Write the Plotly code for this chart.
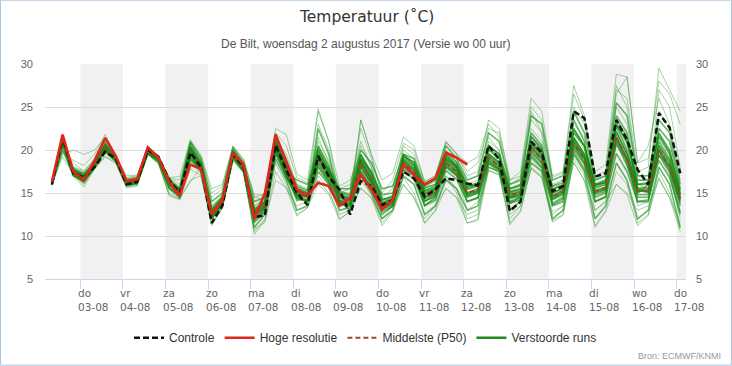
import plotly.graph_objects as go
import pandas as pd

# ---------------- data ----------------
START = "2017-08-02 08:00"   # first forecast step (local time), 6-hourly
N_STEPS = 60
HRES_STEPS = 40

day_names = ["do", "vr", "za", "zo", "ma", "di", "wo", "do", "vr", "za", "zo", "ma", "di", "wo", "do"]
day_dates = ["2017-08-03", "2017-08-04", "2017-08-05", "2017-08-06", "2017-08-07", "2017-08-08",
             "2017-08-09", "2017-08-10", "2017-08-11", "2017-08-12", "2017-08-13", "2017-08-14",
             "2017-08-15", "2017-08-16", "2017-08-17"]
day_labels = ["03-08", "04-08", "05-08", "06-08", "07-08", "08-08", "09-08", "10-08", "11-08",
              "12-08", "13-08", "14-08", "15-08", "16-08", "17-08"]
y_ticks = [5, 10, 15, 20, 25, 30]

controle = [16.0, 21.5, 17.3, 16.8, 18.0, 19.8, 19.0, 16.0, 16.3, 20.0,
            19.2, 16.5, 15.0, 19.7, 18.0, 11.5, 13.5, 19.5, 18.0, 12.2,
            12.4, 20.6, 17.7, 15.0, 13.6, 19.3, 16.9, 15.4, 12.5, 16.4,
            15.8, 13.6, 14.2, 17.5, 16.7, 14.6, 15.4, 16.7, 16.5, 16.1,
            15.9, 20.5, 18.9, 12.9, 14.0, 21.0, 19.7, 15.2, 15.8, 24.5,
            23.7, 16.9, 17.3, 23.5, 21.2, 17.7, 16.0, 24.3, 22.6, 17.3]

hoge_resolutie = [16.3, 21.8, 17.5, 16.5, 18.8, 21.4, 19.3, 16.4, 16.6, 20.3,
                  19.1, 16.3, 14.7, 18.3, 17.8, 12.5, 14.2, 19.7, 18.3, 12.0,
                  15.0, 21.8, 18.7, 15.4, 14.7, 16.2, 15.8, 13.5, 14.4, 17.1,
                  15.4, 13.1, 14.2, 18.3, 17.1, 16.0, 16.7, 19.7, 19.1, 18.3]

middelste_p50 = [16.2, 21.0, 17.5, 16.8, 18.3, 20.3, 19.0, 16.2, 16.4, 19.8,
                 19.0, 16.2, 15.0, 19.8, 18.0, 12.5, 14.0, 19.5, 17.8, 12.5,
                 13.5, 20.5, 17.5, 15.0, 14.5, 19.0, 17.0, 14.5, 14.0, 18.5,
                 16.5, 13.5, 14.0, 18.5, 17.5, 14.5, 15.0, 18.5, 17.5, 15.0,
                 15.4, 19.1, 18.1, 14.8, 15.0, 20.3, 18.9, 14.6, 15.2, 20.8,
                 18.9, 15.2, 15.6, 21.5, 18.9, 15.2, 15.2, 20.0, 18.1, 14.3]

run_01 = [16.3, 21.5, 17.8, 17.0, 18.6, 20.8, 19.1, 16.5, 16.6, 20.1, 19.1, 16.5, 15.5, 20.5, 18.5, 13.5, 14.5, 20.0, 18.2, 13.5,
          14.2, 21.5, 19.0, 16.0, 15.2, 21.5, 18.5, 15.0, 15.0, 20.5, 18.0, 14.5, 15.5, 20.0, 19.0, 15.5, 16.0, 20.0, 18.5, 16.0,
          16.5, 21.5, 20.0, 15.5, 16.0, 23.5, 22.0, 16.0, 16.5, 25.0, 23.0, 16.5, 17.0, 27.0, 26.0, 17.5, 18.0, 29.5, 27.0, 24.5]
run_02 = [15.9, 19.2, 17.2, 16.0, 17.8, 19.3, 18.5, 15.8, 16.0, 19.5, 18.5, 15.0, 14.4, 16.5, 17.0, 11.2, 13.2, 18.8, 17.4, 10.2,
          11.8, 16.5, 15.6, 12.3, 13.3, 16.0, 14.8, 11.9, 12.9, 15.6, 14.4, 11.2, 12.8, 16.0, 14.4, 11.5, 12.9, 15.6, 14.4, 11.5,
          11.8, 17.6, 17.1, 11.3, 12.8, 17.9, 16.8, 11.6, 12.4, 18.6, 16.4, 11.0, 12.8, 16.0, 14.8, 11.2, 12.4, 16.8, 14.4, 10.5]
run_03 = [16.1, 19.5, 20.0, 19.5, 20.0, 21.5, 19.2, 16.8, 17.0, 20.2, 19.2, 16.8, 16.9, 21.2, 19.4, 15.5, 16.0, 20.5, 18.9, 14.8,
          14.8, 22.5, 21.8, 17.2, 16.5, 24.8, 21.0, 15.8, 16.5, 19.5, 16.8, 13.8, 14.5, 18.0, 17.0, 13.5, 14.0, 17.0, 15.5, 12.0,
          12.5, 18.0, 17.5, 12.5, 13.5, 19.0, 17.5, 12.8, 13.5, 20.0, 18.5, 13.0, 14.0, 20.5, 19.0, 13.5, 14.0, 19.5, 17.0, 12.0]
run_04 = [16.2, 20.5, 18.5, 17.5, 19.0, 20.0, 18.8, 16.0, 16.2, 19.7, 18.8, 15.8, 15.2, 20.0, 18.2, 12.0, 13.8, 19.2, 17.6, 11.5,
          12.8, 19.5, 17.0, 14.5, 14.0, 20.5, 18.0, 13.8, 13.5, 23.5, 19.5, 16.5, 17.3, 21.5, 20.5, 16.3, 17.0, 21.0, 19.5, 17.0,
          17.5, 23.5, 22.5, 16.5, 17.5, 26.0, 24.5, 17.0, 17.5, 27.5, 24.0, 17.5, 18.3, 28.8, 28.5, 18.5, 20.5, 26.0, 23.0, 16.5]
run_05 = [16.0, 21.2, 17.0, 16.2, 18.0, 20.5, 19.0, 16.3, 16.5, 19.9, 19.0, 16.0, 14.8, 19.0, 17.8, 12.8, 14.2, 19.6, 17.9, 12.8,
          13.8, 20.8, 17.8, 15.2, 14.8, 19.5, 17.2, 14.8, 14.3, 18.8, 16.8, 13.2, 13.8, 18.8, 17.8, 14.8, 15.3, 18.8, 17.8, 14.5,
          15.0, 18.8, 17.8, 14.5, 14.8, 20.0, 18.5, 14.3, 15.0, 21.0, 19.2, 15.0, 15.5, 22.0, 19.5, 15.5, 15.0, 20.5, 18.5, 14.0]
run_06 = [16.4, 21.6, 17.6, 16.6, 18.5, 20.9, 19.2, 16.6, 16.8, 20.3, 19.3, 16.6, 15.6, 21.0, 19.0, 14.0, 15.0, 20.3, 18.5, 13.0,
          14.0, 21.8, 18.5, 14.5, 14.0, 22.5, 19.5, 14.0, 13.0, 17.5, 15.5, 12.5, 13.5, 19.5, 18.5, 15.0, 15.5, 19.5, 18.0, 15.5,
          16.0, 20.5, 19.5, 14.0, 14.5, 22.0, 20.5, 13.5, 14.0, 23.5, 21.0, 14.0, 14.5, 24.0, 22.0, 15.0, 16.0, 22.5, 21.0, 15.5]
run_07 = [16.1, 20.8, 17.4, 16.9, 18.1, 20.2, 18.9, 16.1, 16.3, 19.6, 18.9, 16.3, 15.1, 19.6, 17.9, 12.3, 13.9, 19.4, 17.7, 12.0,
          13.0, 19.8, 16.8, 14.8, 14.5, 18.5, 16.5, 14.2, 14.0, 18.0, 16.0, 13.8, 14.3, 17.8, 17.0, 14.0, 14.8, 18.0, 17.0, 14.8,
          15.2, 19.5, 18.5, 15.0, 15.2, 20.8, 19.5, 15.0, 15.5, 21.5, 19.5, 16.0, 16.2, 23.0, 21.0, 16.5, 16.5, 21.5, 19.5, 15.0]
run_08 = [16.0, 20.0, 17.1, 16.4, 18.2, 19.8, 18.7, 15.9, 16.1, 19.6, 18.6, 15.5, 14.5, 18.8, 17.5, 12.0, 13.5, 19.0, 17.5, 11.0,
          12.5, 19.0, 16.5, 13.0, 13.5, 17.5, 16.0, 13.0, 13.3, 17.0, 15.0, 12.0, 13.0, 17.0, 16.0, 12.5, 13.5, 16.5, 15.5, 13.0,
          13.5, 18.0, 17.5, 13.0, 14.0, 18.5, 17.5, 12.0, 13.0, 19.5, 17.5, 12.0, 13.5, 18.5, 16.5, 12.0, 13.0, 18.0, 16.0, 11.0]
run_09 = [16.3, 21.3, 17.7, 17.2, 18.4, 20.6, 19.1, 16.4, 16.5, 20.0, 19.1, 16.1, 14.9, 20.2, 18.3, 12.6, 14.1, 19.8, 18.0, 12.6,
          13.6, 21.0, 18.0, 15.5, 15.0, 20.0, 17.5, 15.2, 14.8, 19.5, 17.2, 14.8, 15.0, 19.0, 18.2, 15.3, 15.8, 19.0, 18.2, 15.8,
          16.2, 20.0, 19.0, 15.2, 15.5, 21.5, 20.0, 15.5, 16.0, 22.5, 20.5, 15.8, 16.2, 21.5, 19.0, 14.5, 14.5, 19.5, 18.0, 13.5]
run_10 = [16.2, 21.4, 17.5, 16.7, 18.3, 20.4, 19.0, 16.2, 16.4, 19.8, 19.0, 16.4, 15.3, 20.8, 18.6, 13.0, 14.5, 20.0, 18.3, 14.0,
          14.5, 20.0, 17.5, 16.5, 16.0, 19.0, 17.8, 15.5, 15.5, 20.0, 18.5, 15.5, 15.8, 19.5, 19.0, 15.8, 16.5, 20.5, 19.0, 16.5,
          17.0, 22.0, 21.0, 16.0, 16.5, 24.0, 23.0, 16.5, 17.0, 24.5, 22.0, 16.5, 17.0, 25.5, 24.0, 17.0, 17.0, 23.5, 22.0, 16.0]
run_11 = [16.1, 20.6, 17.9, 17.3, 18.6, 20.0, 18.9, 16.0, 16.2, 19.7, 18.8, 15.7, 14.6, 19.2, 17.6, 12.2, 13.6, 19.3, 17.6, 11.8,
          13.2, 20.2, 17.2, 14.2, 14.2, 18.0, 16.2, 13.5, 13.8, 18.2, 16.2, 13.0, 13.6, 18.2, 17.2, 13.5, 14.5, 18.2, 17.2, 14.0,
          14.5, 18.5, 17.8, 13.8, 14.5, 19.5, 18.0, 13.8, 14.5, 20.5, 18.5, 14.5, 15.0, 21.0, 18.5, 14.0, 14.0, 20.0, 17.5, 12.5]
run_12 = [16.3, 21.0, 17.3, 16.5, 18.2, 20.7, 19.2, 16.7, 16.9, 20.4, 19.3, 16.8, 16.0, 20.6, 18.8, 14.5, 15.5, 20.1, 18.7, 14.5,
          14.8, 22.0, 20.5, 16.8, 16.2, 21.0, 18.8, 15.5, 16.0, 21.0, 18.0, 14.0, 14.8, 20.5, 19.5, 16.0, 16.8, 21.0, 19.6, 18.5,
          19.2, 23.0, 21.5, 16.0, 16.8, 22.5, 21.0, 15.8, 16.5, 23.0, 21.5, 16.0, 16.5, 26.5, 28.5, 18.5, 19.0, 28.0, 26.5, 23.0]
run_13 = [15.9, 20.3, 17.0, 16.3, 17.9, 19.6, 18.6, 15.7, 15.9, 19.5, 18.4, 14.8, 14.3, 18.5, 17.2, 11.5, 13.3, 18.9, 17.4, 10.5,
          12.0, 18.5, 16.0, 12.5, 13.3, 17.0, 15.5, 12.0, 12.8, 16.5, 14.8, 11.5, 13.0, 16.8, 15.0, 11.5, 13.0, 17.0, 15.0, 11.5,
          12.0, 18.5, 17.2, 11.5, 13.0, 18.0, 17.0, 11.8, 12.5, 19.0, 17.0, 11.2, 13.0, 17.5, 16.0, 11.5, 12.5, 17.5, 15.0, 10.8]
run_14 = [16.2, 20.9, 18.0, 17.6, 18.8, 21.0, 19.1, 16.5, 16.7, 20.1, 19.2, 16.7, 16.5, 20.9, 19.2, 15.0, 15.8, 20.4, 18.9, 14.5,
          14.2, 21.2, 19.5, 16.0, 15.5, 23.0, 20.0, 15.0, 15.5, 22.5, 19.0, 15.0, 16.5, 20.8, 20.0, 16.3, 17.0, 20.8, 19.5, 17.5,
          18.5, 22.5, 22.0, 16.5, 17.0, 25.0, 23.5, 16.8, 17.3, 26.5, 23.5, 17.0, 17.5, 27.5, 25.0, 17.0, 16.5, 24.5, 22.5, 17.5]
run_15 = [16.1, 21.1, 17.6, 17.0, 18.4, 20.1, 18.9, 16.2, 16.4, 19.8, 19.0, 16.2, 15.0, 19.5, 18.1, 12.7, 14.0, 19.5, 17.8, 12.4,
          13.4, 20.3, 17.5, 15.0, 14.6, 19.0, 17.0, 14.6, 14.2, 18.6, 16.6, 13.6, 14.2, 18.6, 17.6, 14.6, 15.0, 18.6, 17.6, 15.0,
          15.5, 19.0, 18.0, 14.6, 15.0, 20.2, 19.0, 14.6, 15.2, 20.8, 19.0, 15.2, 15.6, 21.5, 19.0, 15.2, 15.2, 20.0, 18.0, 14.3]
run_16 = [16.0, 20.2, 16.9, 15.7, 17.8, 19.2, 18.4, 15.6, 15.8, 19.5, 18.4, 14.7, 14.2, 17.8, 17.0, 11.5, 13.2, 18.8, 17.3, 10.8,
          11.6, 17.5, 15.5, 13.5, 14.0, 16.5, 15.0, 12.5, 13.0, 15.5, 14.5, 12.0, 13.5, 16.0, 14.5, 12.0, 13.5, 15.5, 14.5, 12.5,
          13.0, 17.6, 17.2, 12.0, 13.5, 17.8, 16.8, 12.5, 13.5, 18.5, 16.5, 13.0, 14.0, 16.0, 15.0, 13.0, 13.5, 16.6, 14.5, 11.5]
run_17 = [16.2, 19.8, 18.8, 18.2, 19.5, 21.8, 19.3, 17.0, 17.1, 20.4, 19.3, 16.9, 14.3, 16.3, 18.0, 13.5, 14.8, 19.0, 18.0, 13.5,
          14.5, 21.5, 17.5, 14.0, 15.5, 24.5, 21.0, 14.5, 14.5, 23.5, 19.5, 14.5, 14.0, 19.5, 18.0, 14.0, 14.5, 19.0, 17.0, 13.0,
          14.0, 21.0, 20.0, 14.0, 15.5, 24.5, 22.0, 14.5, 15.5, 22.0, 20.0, 15.5, 16.0, 25.0, 23.0, 16.0, 15.5, 27.0, 25.0, 18.0]
run_18 = [16.1, 21.6, 17.2, 16.4, 18.0, 20.4, 19.0, 16.3, 16.4, 19.9, 19.1, 16.3, 15.4, 20.4, 18.4, 13.2, 14.6, 19.9, 18.1, 13.2,
          14.0, 21.3, 18.2, 15.8, 15.3, 20.5, 18.2, 14.0, 13.5, 19.0, 17.5, 14.2, 14.6, 19.2, 18.6, 15.6, 16.0, 19.6, 18.6, 16.0,
          15.8, 20.5, 19.5, 15.5, 16.0, 21.0, 19.8, 15.8, 16.2, 22.0, 20.5, 16.0, 16.5, 23.5, 21.5, 16.0, 16.0, 22.0, 20.0, 14.8]
run_19 = [16.2, 21.2, 17.6, 16.9, 18.4, 20.5, 19.0, 16.3, 16.5, 19.9, 19.1, 16.3, 15.2, 20.0, 18.2, 12.8, 14.2, 19.7, 18.0, 12.8,
          13.8, 20.8, 17.9, 15.3, 14.8, 19.5, 17.4, 14.8, 14.4, 19.0, 17.0, 13.9, 14.4, 18.9, 17.9, 14.9, 15.4, 18.9, 17.9, 15.4,
          15.8, 19.6, 18.6, 15.1, 15.4, 20.8, 19.4, 15.0, 15.6, 21.4, 19.5, 15.6, 16.0, 22.2, 19.6, 15.6, 15.6, 20.6, 18.7, 14.7]
run_20 = [16.1, 20.8, 17.3, 16.6, 18.1, 20.0, 18.8, 16.0, 16.2, 19.7, 18.9, 16.0, 14.8, 19.5, 17.8, 12.2, 13.8, 19.3, 17.6, 12.2,
          13.2, 20.2, 17.1, 14.7, 14.2, 18.6, 16.7, 14.2, 13.7, 18.1, 16.1, 13.2, 13.7, 18.1, 17.1, 14.1, 14.6, 18.1, 17.1, 14.6,
          15.0, 18.7, 17.7, 14.4, 14.6, 19.8, 18.4, 14.2, 14.8, 20.2, 18.3, 14.8, 15.2, 20.8, 18.2, 14.8, 14.8, 19.4, 17.5, 13.8]
run_21 = [16.2, 21.0, 17.4, 16.8, 18.3, 20.3, 19.0, 16.2, 16.4, 19.8, 19.0, 16.1, 14.9, 19.9, 18.1, 12.4, 13.9, 19.6, 17.9, 12.3,
          13.4, 20.6, 17.6, 15.1, 14.6, 19.8, 17.6, 14.0, 13.8, 18.8, 16.4, 13.4, 13.9, 18.4, 17.4, 14.3, 14.9, 19.2, 18.0, 14.8,
          15.2, 19.4, 18.3, 14.5, 14.8, 20.6, 19.1, 14.4, 15.0, 21.2, 19.2, 15.0, 15.4, 22.8, 20.0, 15.4, 15.4, 21.0, 19.0, 14.5]
run_22 = [16.3, 21.4, 17.7, 17.0, 18.5, 20.6, 19.1, 16.4, 16.6, 20.0, 19.2, 16.4, 15.4, 20.3, 18.4, 13.0, 14.4, 19.8, 18.1, 13.0,
          14.0, 21.0, 18.3, 15.6, 15.0, 20.2, 17.8, 15.0, 14.6, 19.4, 17.4, 14.2, 14.6, 19.3, 18.3, 15.2, 15.6, 19.3, 18.3, 15.7,
          16.0, 20.2, 19.2, 15.5, 15.8, 21.6, 20.2, 15.4, 15.9, 22.4, 20.4, 15.9, 16.3, 23.0, 20.8, 16.0, 16.2, 21.8, 19.8, 15.3]
run_23 = [16.0, 20.6, 17.1, 16.4, 18.0, 19.9, 18.7, 15.9, 16.1, 19.6, 18.7, 15.6, 14.6, 19.2, 17.6, 12.0, 13.6, 19.2, 17.5, 11.6,
          12.8, 19.6, 16.9, 14.4, 14.0, 18.2, 16.3, 13.8, 13.5, 17.6, 15.7, 12.8, 13.4, 17.6, 16.6, 13.6, 14.2, 17.6, 16.6, 14.0,
          14.4, 18.4, 17.6, 13.8, 14.2, 19.2, 17.9, 13.6, 14.3, 19.8, 17.8, 14.0, 14.6, 19.6, 17.5, 14.0, 14.2, 18.8, 16.8, 12.8]
run_24 = [16.2, 21.1, 17.5, 16.9, 18.3, 20.2, 19.0, 16.2, 16.4, 19.8, 19.0, 16.2, 15.0, 20.1, 18.0, 12.6, 14.0, 19.5, 17.8, 12.6,
          13.5, 20.4, 17.4, 14.9, 14.5, 19.2, 17.1, 14.5, 14.1, 18.4, 16.6, 13.6, 14.1, 18.7, 17.6, 14.5, 15.1, 18.4, 17.4, 15.0,
          15.4, 19.2, 18.1, 14.8, 15.1, 20.4, 18.8, 14.7, 15.3, 20.6, 18.8, 15.3, 15.7, 21.3, 18.8, 15.2, 15.3, 20.2, 18.2, 14.2]

verstoorde_runs = [run_01, run_02, run_03, run_04, run_05, run_06, run_07, run_08, run_09, run_10, run_11, run_12,
                   run_13, run_14, run_15, run_16, run_17, run_18, run_19, run_20, run_21, run_22, run_23, run_24]
# runs far from the core are drawn fainter (style only)
outer_runs = {0, 1, 2, 3, 11, 12, 13, 15, 16}

# ---------------- figure ----------------
times = pd.date_range(START, periods=N_STEPS, freq="6h")
FONT = "Liberation Sans, Arial, sans-serif"
FONT_W = "DejaVu Sans, Verdana, sans-serif"
GREEN_CORE = "rgba(12,136,12,0.62)"
GREEN_OUTER = "rgba(40,150,40,0.42)"

fig = go.Figure()

for k, run in enumerate(verstoorde_runs):
    outer = k in outer_runs
    fig.add_trace(go.Scatter(x=times, y=run, mode="lines",
                             line=dict(color=GREEN_OUTER if outer else GREEN_CORE, width=1.0 if outer else 1.6),
                             legendgroup="ens", showlegend=False, hoverinfo="skip"))
fig.add_trace(go.Scatter(x=[None], y=[None], mode="lines", name="Verstoorde runs",
                         line=dict(color="#1e8c1e", width=2.5), legendgroup="ens", legendrank=4))

fig.add_trace(go.Scatter(x=times, y=middelste_p50, mode="lines", name="Middelste (P50)",
                         line=dict(color="#9a4a2c", width=2, dash="5px,3px"), legendrank=3))
fig.add_trace(go.Scatter(x=times, y=controle, mode="lines", name="Controle",
                         line=dict(color="#111111", width=2.5, dash="6px,3px"), legendrank=1))
fig.add_trace(go.Scatter(x=times[:HRES_STEPS], y=hoge_resolutie, mode="lines", name="Hoge resolutie",
                         line=dict(color="#e0261c", width=2.6), legendrank=2))

X_MIN, X_MAX = "2017-08-02 04:05", "2017-08-17 05:15"

# alternating day bands
shapes = []
for j in range(0, len(day_dates), 2):
    d0 = pd.Timestamp(day_dates[j])
    d1 = min(d0 + pd.Timedelta(days=1), pd.Timestamp(X_MAX))
    shapes.append(dict(type="rect", xref="x", yref="paper", x0=d0, x1=d1, y0=0, y1=1,
                       fillcolor="#f1f1f1", line=dict(width=0), layer="below"))
# outer frame
PW, PH, ML, MT = 641, 215, 45, 64.3
shapes.append(dict(type="rect", xref="paper", yref="paper",
                   x0=(0.5 - ML) / PW, x1=(731.5 - ML) / PW,
                   y0=(MT + PH - 365.5) / PH, y1=(MT + PH - 0.5) / PH,
                   line=dict(color="#a9c6e2", width=1), fillcolor="rgba(0,0,0,0)"))

annotations = [
    dict(text="Temperatuur (˚C)", xref="paper", yref="paper", x=(366 - ML) / PW, y=(MT + PH - 17) / PH,
         showarrow=False, font=dict(family=FONT_W, size=15.5, color="#333333"), xanchor="center", yanchor="middle"),
    dict(text="De Bilt, woensdag 2 augustus 2017 (Versie wo 00 uur)", xref="paper", yref="paper",
         x=(366 - ML) / PW, y=(MT + PH - 44) / PH, showarrow=False,
         font=dict(family=FONT, size=12, color="#555555"), xanchor="center", yanchor="middle"),
    dict(text="Bron: ECMWF/KNMI", xref="paper", yref="paper", x=(723 - ML) / PW, y=(MT + PH - 356) / PH,
         showarrow=False, font=dict(family=FONT, size=9, color="#999999"), xanchor="right", yanchor="middle"),
]
for name, lab, d in zip(day_names, day_labels, day_dates):
    annotations.append(dict(text=f"{name}<br>{lab}", x=d, xref="x", yref="paper", y=(MT + PH - 285) / PH,
                            xanchor="center", yanchor="top", xshift=13, showarrow=False, align="left",
                            font=dict(family=FONT_W, size=10.5, color="#666666")))

fig.update_layout(
    width=732, height=366,
    margin=dict(l=45, r=46, t=64, b=87),
    paper_bgcolor="white", plot_bgcolor="white",
    font=dict(family=FONT, size=11, color="#666666"),
    shapes=shapes, annotations=annotations,
    showlegend=True,
    legend=dict(orientation="h", x=0.5, xanchor="center", y=(MT + PH - 338) / PH, yanchor="middle",
                font=dict(family=FONT, size=12, color="#333333"), bgcolor="rgba(0,0,0,0)",
                itemwidth=30, tracegroupgap=0),
    xaxis=dict(type="date", range=[X_MIN, X_MAX], showgrid=False, zeroline=False,
               tickvals=day_dates, showticklabels=False, ticks="outside", ticklen=9,
               tickcolor="#ccd6eb", showline=True, linecolor="#ccd6eb", linewidth=1),
    yaxis=dict(range=[5, 30], tickvals=y_ticks, showgrid=True, gridcolor="#dcdcdc", zeroline=False,
               ticks="", ticklabelstandoff=11, tickfont=dict(family=FONT, size=11, color="#666666")),
    yaxis2=dict(range=[5, 30], tickvals=y_ticks, overlaying="y", side="right", showgrid=False,
                zeroline=False, ticks="", ticklabelstandoff=9,
                tickfont=dict(family=FONT, size=11, color="#666666")),
    hovermode=False,
)
# invisible trace to activate right axis
fig.add_trace(go.Scatter(x=[times[0]], y=[None], yaxis="y2", showlegend=False, hoverinfo="skip"))

fig.write_html("out.html", config={"displayModeBar": False},
               post_script="document.body.style.margin='0';document.body.style.padding='0';")
